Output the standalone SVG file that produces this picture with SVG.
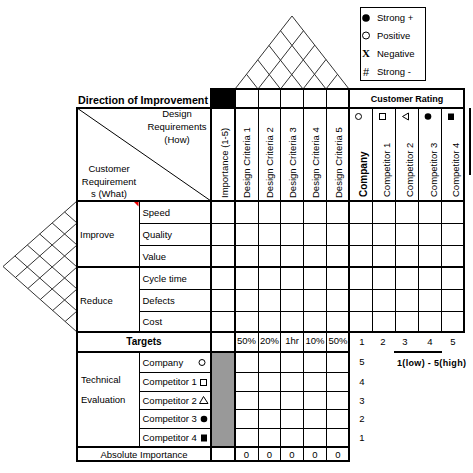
<svg xmlns="http://www.w3.org/2000/svg" width="473" height="473" viewBox="0 0 473 473">
<style>
text{font-family:"Liberation Sans",Arial,sans-serif;font-size:9.5px;fill:#000}
.b{font-weight:bold}
.c{text-anchor:middle}
.k{stroke:#000;stroke-width:2;fill:none}
.n{stroke:#000;stroke-width:1;fill:none}
.r{stroke:#333;stroke-width:1;fill:none}
</style>
<rect width="473" height="473" fill="#fff"/>
<g id="roof">
<path class="r" d="M235,89 L292,16 L349,89 M258,89 L303.5,30.7 M280.5,89 L314.8,45.1 M303,89 L326,59.5 M326,89 L337.5,74.3 M258,89 L246.5,74.3 M280.5,89 L257.8,59.9 M303,89 L269,45.5 M326,89 L280.5,30.7"/>
</g>
<g id="left-wall">
<path class="r" d="M77,201 L3,266.5 L77,332 M77,223 L15.4,277.5 M77,245 L27.9,288.5 M77,267 L40.3,299.5 M77,289 L52.7,310.5 M77,311 L65.1,321.5 M77,223 L64.6,212 M77,245 L52.2,223 M77,267 L39.7,234 M77,289 L27.3,245 M77,311 L14.9,256"/>
</g>
<g id="legend">
<rect x="360.5" y="7.5" width="65" height="73" class="n"/>
<circle cx="366" cy="18" r="3.8" fill="#000"/>
<text x="377" y="21">Strong +</text>
<circle cx="366" cy="35.5" r="3.5" fill="none" stroke="#000" stroke-width="1"/>
<text x="377" y="38.5">Positive</text>
<text x="366" y="57" class="b c" style="font-family:'Liberation Serif',serif;font-size:11px">X</text>
<text x="377" y="56.5">Negative</text>
<text x="366" y="76" class="c" style="font-size:11px">#</text>
<text x="377" y="74.5">Strong -</text>
</g>
<g id="fills">
<rect x="210" y="89" width="25" height="19" fill="#000"/>
<rect x="211" y="352" width="24" height="95" fill="#999"/>
<path d="M134,202 L138.5,202 L138.5,206.5 Z" fill="#e00"/>
</g>
<g id="grid">
<path class="k" d="M210,89 H465 M76,108 H465 M76,201 H465 M76,267 H465 M76,332 H465 M76,352 H350 M76,447 H350 M76,461 H350"/>
<path class="k" d="M77,107 V462 M211,108 V462 M235,88 V462 M349,88 V462 M464,88 V333 M470,108 V175"/>
<path class="n" d="M139.5,201 V332 M139.5,352 V447 M258.5,89 V461 M280.5,89 V461 M303.5,89 V461 M326.5,89 V461 M372.5,108 V332 M395.5,108 V332 M418.5,108 V332 M441.5,108 V332"/>
<path class="n" d="M139,223.5 H464 M139,245.5 H464 M139,289.5 H464 M139,311.5 H464 M139,372.5 H211 M235,372.5 H349 M139,391.5 H211 M235,391.5 H349 M139,409.5 H211 M235,409.5 H349 M139,428.5 H211 M235,428.5 H349"/>
<path class="n" d="M77,108 L211,201"/>
</g>
<g id="header">
<text x="78" y="104" class="b" style="font-size:11px" textLength="130" lengthAdjust="spacingAndGlyphs">Direction of Improvement</text>
<text x="407" y="102" class="b c" style="font-size:9px">Customer Rating</text>
<text x="177" y="117" class="c">Design</text>
<text x="177" y="130" class="c">Requirements</text>
<text x="177" y="142.5" class="c">(How)</text>
<text x="109" y="172" class="c">Customer</text>
<text x="109" y="184.5" class="c">Requirement</text>
<text x="109" y="196.5" class="c">s (What)</text>
<text transform="translate(227.5,198) rotate(-90)">Importance (1-5)</text>
<text transform="translate(249.5,198) rotate(-90)">Design Criteria 1</text>
<text transform="translate(272.5,198) rotate(-90)">Design Criteria 2</text>
<text transform="translate(295.5,198) rotate(-90)">Design Criteria 3</text>
<text transform="translate(318.5,198) rotate(-90)">Design Criteria 4</text>
<text transform="translate(341.5,198) rotate(-90)">Design Criteria 5</text>
<text transform="translate(367,197) rotate(-90)" class="b" style="font-size:10px">Company</text>
<text transform="translate(390,197) rotate(-90)">Competitor 1</text>
<text transform="translate(413,197) rotate(-90)">Competitor 2</text>
<text transform="translate(436.5,197) rotate(-90)">Competitor 3</text>
<text transform="translate(459,197) rotate(-90)">Competitor 4</text>
<circle cx="358.5" cy="116.5" r="3" fill="none" stroke="#000" stroke-width="1"/>
<rect x="379.5" y="113.5" width="6" height="6" fill="none" stroke="#000" stroke-width="1"/>
<path d="M408.5,113 L402.5,116.5 L408.5,120 Z" fill="none" stroke="#000" stroke-width="1"/>
<circle cx="428" cy="116.5" r="3.3" fill="#000"/>
<rect x="448" y="113.5" width="6" height="6.5" fill="#000"/>
</g>
<g id="rows">
<text x="80" y="238">Improve</text>
<text x="80" y="304">Reduce</text>
<text x="142.5" y="215.5">Speed</text>
<text x="142.5" y="237.5">Quality</text>
<text x="142.5" y="259.5">Value</text>
<text x="142.5" y="281.5">Cycle time</text>
<text x="142.5" y="303.5">Defects</text>
<text x="142.5" y="325">Cost</text>
</g>
<g id="targets">
<text x="144" y="344.5" class="b c" style="font-size:10px">Targets</text>
<text x="246.5" y="344" class="c">50%</text>
<text x="269.5" y="344" class="c">20%</text>
<text x="292" y="344" class="c">1hr</text>
<text x="315" y="344" class="c">10%</text>
<text x="338" y="344" class="c">50%</text>
<text x="362" y="345" class="c">1</text>
<text x="383" y="345" class="c">2</text>
<text x="405" y="345" class="c">3</text>
<text x="430" y="345" class="c">4</text>
<text x="453" y="345" class="c">5</text>
<path d="M394,352 H442" stroke="#000" stroke-width="2"/>
<text x="397" y="366" class="b" style="font-size:9px" textLength="69">1(low) - 5(high)</text>
</g>
<g id="technical">
<text x="81" y="383">Technical</text>
<text x="81" y="402.5">Evaluation</text>
<text x="142.5" y="365.5">Company</text>
<text x="142.5" y="384.5">Competitor 1</text>
<text x="142.5" y="403.5">Competitor 2</text>
<text x="142.5" y="422">Competitor 3</text>
<text x="142.5" y="441">Competitor 4</text>
<circle cx="202" cy="362.5" r="3" fill="none" stroke="#000" stroke-width="1"/>
<rect x="200.5" y="379.5" width="6" height="6" fill="none" stroke="#000" stroke-width="1"/>
<path d="M203.5,396.5 L199.5,403.5 L208,403.5 Z" fill="none" stroke="#000" stroke-width="1"/>
<circle cx="204" cy="419" r="3.3" fill="#000"/>
<rect x="201" y="434.5" width="6" height="7" fill="#000"/>
<text x="362" y="365" class="c">5</text>
<text x="362" y="384.5" class="c">4</text>
<text x="362" y="403.5" class="c">3</text>
<text x="362" y="422" class="c">2</text>
<text x="362" y="441" class="c">1</text>
</g>
<g id="absolute">
<text x="144" y="457.5" class="c">Absolute Importance</text>
<text x="246.5" y="457.5" class="c">0</text>
<text x="269.5" y="457.5" class="c">0</text>
<text x="292" y="457.5" class="c">0</text>
<text x="315" y="457.5" class="c">0</text>
<text x="338" y="457.5" class="c">0</text>
</g>
</svg>
